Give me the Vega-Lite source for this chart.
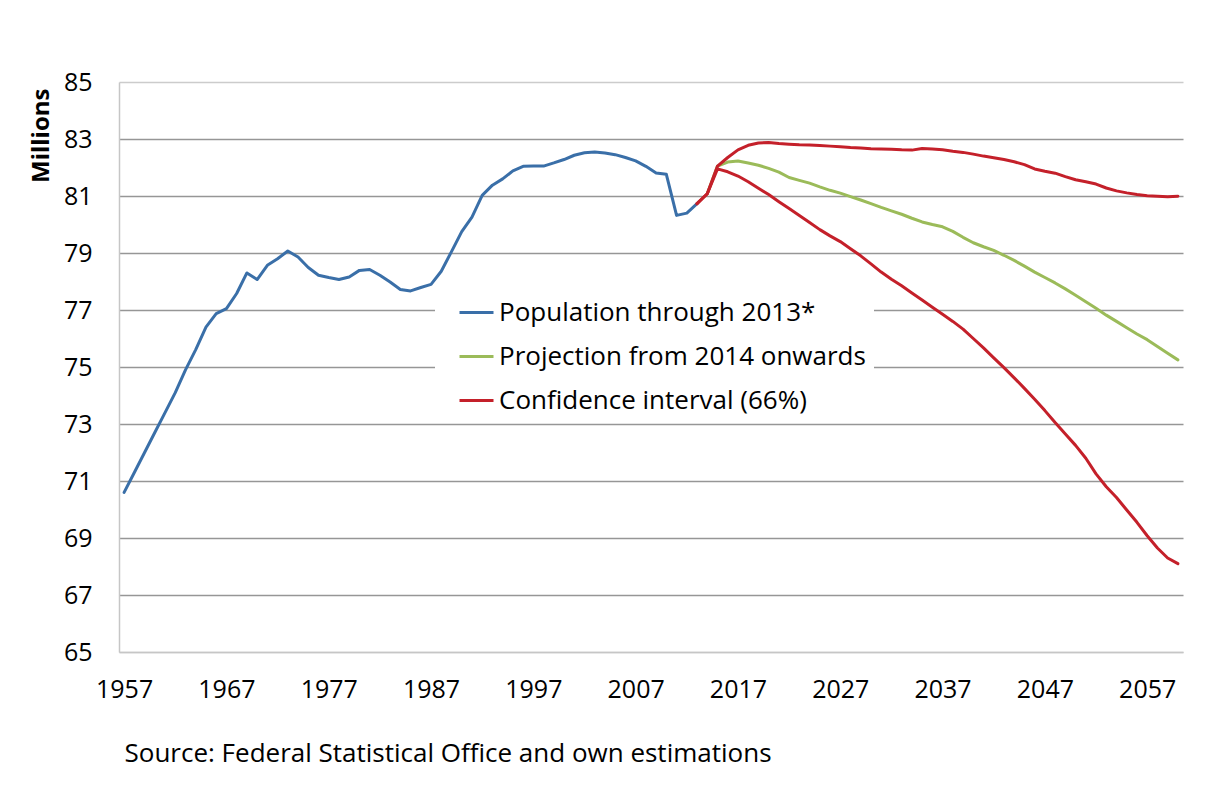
{
  "$schema": "https://vega.github.io/schema/vega-lite/v6.json",
  "width": 1064,
  "height": 570,
  "autosize": {"type": "none"},
  "padding": {"left": 119, "top": 82, "right": 31, "bottom": 135},
  "background": "white",
  "config": {
    "font": "Open Sans",
    "view": {"stroke": null},
    "axis": {"labelColor": "#000000", "titleColor": "#000000"}
  },
  "datasets": {
    "pop": [
      {"year":1957,"value":70.6,"series":"Population through 2013*","bound":"main"},
      {"year":1958,"value":71.3,"series":"Population through 2013*","bound":"main"},
      {"year":1959,"value":72.0,"series":"Population through 2013*","bound":"main"},
      {"year":1960,"value":72.7,"series":"Population through 2013*","bound":"main"},
      {"year":1961,"value":73.4,"series":"Population through 2013*","bound":"main"},
      {"year":1962,"value":74.1,"series":"Population through 2013*","bound":"main"},
      {"year":1963,"value":74.9,"series":"Population through 2013*","bound":"main"},
      {"year":1964,"value":75.61,"series":"Population through 2013*","bound":"main"},
      {"year":1965,"value":76.4,"series":"Population through 2013*","bound":"main"},
      {"year":1966,"value":76.87,"series":"Population through 2013*","bound":"main"},
      {"year":1967,"value":77.05,"series":"Population through 2013*","bound":"main"},
      {"year":1968,"value":77.58,"series":"Population through 2013*","bound":"main"},
      {"year":1969,"value":78.3,"series":"Population through 2013*","bound":"main"},
      {"year":1970,"value":78.07,"series":"Population through 2013*","bound":"main"},
      {"year":1971,"value":78.57,"series":"Population through 2013*","bound":"main"},
      {"year":1972,"value":78.8,"series":"Population through 2013*","bound":"main"},
      {"year":1973,"value":79.07,"series":"Population through 2013*","bound":"main"},
      {"year":1974,"value":78.86,"series":"Population through 2013*","bound":"main"},
      {"year":1975,"value":78.49,"series":"Population through 2013*","bound":"main"},
      {"year":1976,"value":78.22,"series":"Population through 2013*","bound":"main"},
      {"year":1977,"value":78.14,"series":"Population through 2013*","bound":"main"},
      {"year":1978,"value":78.07,"series":"Population through 2013*","bound":"main"},
      {"year":1979,"value":78.16,"series":"Population through 2013*","bound":"main"},
      {"year":1980,"value":78.39,"series":"Population through 2013*","bound":"main"},
      {"year":1981,"value":78.42,"series":"Population through 2013*","bound":"main"},
      {"year":1982,"value":78.22,"series":"Population through 2013*","bound":"main"},
      {"year":1983,"value":77.98,"series":"Population through 2013*","bound":"main"},
      {"year":1984,"value":77.72,"series":"Population through 2013*","bound":"main"},
      {"year":1985,"value":77.67,"series":"Population through 2013*","bound":"main"},
      {"year":1986,"value":77.79,"series":"Population through 2013*","bound":"main"},
      {"year":1987,"value":77.9,"series":"Population through 2013*","bound":"main"},
      {"year":1988,"value":78.36,"series":"Population through 2013*","bound":"main"},
      {"year":1989,"value":79.05,"series":"Population through 2013*","bound":"main"},
      {"year":1990,"value":79.75,"series":"Population through 2013*","bound":"main"},
      {"year":1991,"value":80.26,"series":"Population through 2013*","bound":"main"},
      {"year":1992,"value":81.02,"series":"Population through 2013*","bound":"main"},
      {"year":1993,"value":81.38,"series":"Population through 2013*","bound":"main"},
      {"year":1994,"value":81.6,"series":"Population through 2013*","bound":"main"},
      {"year":1995,"value":81.88,"series":"Population through 2013*","bound":"main"},
      {"year":1996,"value":82.04,"series":"Population through 2013*","bound":"main"},
      {"year":1997,"value":82.05,"series":"Population through 2013*","bound":"main"},
      {"year":1998,"value":82.05,"series":"Population through 2013*","bound":"main"},
      {"year":1999,"value":82.16,"series":"Population through 2013*","bound":"main"},
      {"year":2000,"value":82.28,"series":"Population through 2013*","bound":"main"},
      {"year":2001,"value":82.43,"series":"Population through 2013*","bound":"main"},
      {"year":2002,"value":82.52,"series":"Population through 2013*","bound":"main"},
      {"year":2003,"value":82.54,"series":"Population through 2013*","bound":"main"},
      {"year":2004,"value":82.51,"series":"Population through 2013*","bound":"main"},
      {"year":2005,"value":82.45,"series":"Population through 2013*","bound":"main"},
      {"year":2006,"value":82.35,"series":"Population through 2013*","bound":"main"},
      {"year":2007,"value":82.23,"series":"Population through 2013*","bound":"main"},
      {"year":2008,"value":82.04,"series":"Population through 2013*","bound":"main"},
      {"year":2009,"value":81.81,"series":"Population through 2013*","bound":"main"},
      {"year":2010,"value":81.76,"series":"Population through 2013*","bound":"main"},
      {"year":2011,"value":80.32,"series":"Population through 2013*","bound":"main"},
      {"year":2012,"value":80.4,"series":"Population through 2013*","bound":"main"},
      {"year":2013,"value":80.73,"series":"Population through 2013*","bound":"main"},

      {"year":2014,"value":81.08,"series":"Projection from 2014 onwards","bound":"mid"},
      {"year":2015,"value":82.05,"series":"Projection from 2014 onwards","bound":"mid"},
      {"year":2016,"value":82.19,"series":"Projection from 2014 onwards","bound":"mid"},
      {"year":2017,"value":82.23,"series":"Projection from 2014 onwards","bound":"mid"},
      {"year":2018,"value":82.16,"series":"Projection from 2014 onwards","bound":"mid"},
      {"year":2019,"value":82.08,"series":"Projection from 2014 onwards","bound":"mid"},
      {"year":2020,"value":81.97,"series":"Projection from 2014 onwards","bound":"mid"},
      {"year":2021,"value":81.84,"series":"Projection from 2014 onwards","bound":"mid"},
      {"year":2022,"value":81.65,"series":"Projection from 2014 onwards","bound":"mid"},
      {"year":2023,"value":81.55,"series":"Projection from 2014 onwards","bound":"mid"},
      {"year":2024,"value":81.45,"series":"Projection from 2014 onwards","bound":"mid"},
      {"year":2025,"value":81.32,"series":"Projection from 2014 onwards","bound":"mid"},
      {"year":2026,"value":81.2,"series":"Projection from 2014 onwards","bound":"mid"},
      {"year":2027,"value":81.1,"series":"Projection from 2014 onwards","bound":"mid"},
      {"year":2028,"value":80.98,"series":"Projection from 2014 onwards","bound":"mid"},
      {"year":2029,"value":80.86,"series":"Projection from 2014 onwards","bound":"mid"},
      {"year":2030,"value":80.73,"series":"Projection from 2014 onwards","bound":"mid"},
      {"year":2031,"value":80.6,"series":"Projection from 2014 onwards","bound":"mid"},
      {"year":2032,"value":80.48,"series":"Projection from 2014 onwards","bound":"mid"},
      {"year":2033,"value":80.36,"series":"Projection from 2014 onwards","bound":"mid"},
      {"year":2034,"value":80.22,"series":"Projection from 2014 onwards","bound":"mid"},
      {"year":2035,"value":80.09,"series":"Projection from 2014 onwards","bound":"mid"},
      {"year":2036,"value":80.0,"series":"Projection from 2014 onwards","bound":"mid"},
      {"year":2037,"value":79.92,"series":"Projection from 2014 onwards","bound":"mid"},
      {"year":2038,"value":79.76,"series":"Projection from 2014 onwards","bound":"mid"},
      {"year":2039,"value":79.55,"series":"Projection from 2014 onwards","bound":"mid"},
      {"year":2040,"value":79.36,"series":"Projection from 2014 onwards","bound":"mid"},
      {"year":2041,"value":79.22,"series":"Projection from 2014 onwards","bound":"mid"},
      {"year":2042,"value":79.09,"series":"Projection from 2014 onwards","bound":"mid"},
      {"year":2043,"value":78.92,"series":"Projection from 2014 onwards","bound":"mid"},
      {"year":2044,"value":78.74,"series":"Projection from 2014 onwards","bound":"mid"},
      {"year":2045,"value":78.54,"series":"Projection from 2014 onwards","bound":"mid"},
      {"year":2046,"value":78.33,"series":"Projection from 2014 onwards","bound":"mid"},
      {"year":2047,"value":78.14,"series":"Projection from 2014 onwards","bound":"mid"},
      {"year":2048,"value":77.95,"series":"Projection from 2014 onwards","bound":"mid"},
      {"year":2049,"value":77.74,"series":"Projection from 2014 onwards","bound":"mid"},
      {"year":2050,"value":77.52,"series":"Projection from 2014 onwards","bound":"mid"},
      {"year":2051,"value":77.29,"series":"Projection from 2014 onwards","bound":"mid"},
      {"year":2052,"value":77.06,"series":"Projection from 2014 onwards","bound":"mid"},
      {"year":2053,"value":76.82,"series":"Projection from 2014 onwards","bound":"mid"},
      {"year":2054,"value":76.6,"series":"Projection from 2014 onwards","bound":"mid"},
      {"year":2055,"value":76.38,"series":"Projection from 2014 onwards","bound":"mid"},
      {"year":2056,"value":76.16,"series":"Projection from 2014 onwards","bound":"mid"},
      {"year":2057,"value":75.96,"series":"Projection from 2014 onwards","bound":"mid"},
      {"year":2058,"value":75.72,"series":"Projection from 2014 onwards","bound":"mid"},
      {"year":2059,"value":75.48,"series":"Projection from 2014 onwards","bound":"mid"},
      {"year":2060,"value":75.25,"series":"Projection from 2014 onwards","bound":"mid"},

      {"year":2013,"value":80.73,"series":"Confidence interval (66%)","bound":"upper"},
      {"year":2014,"value":81.08,"series":"Confidence interval (66%)","bound":"upper"},
      {"year":2015,"value":82.05,"series":"Confidence interval (66%)","bound":"upper"},
      {"year":2016,"value":82.35,"series":"Confidence interval (66%)","bound":"upper"},
      {"year":2017,"value":82.62,"series":"Confidence interval (66%)","bound":"upper"},
      {"year":2018,"value":82.78,"series":"Confidence interval (66%)","bound":"upper"},
      {"year":2019,"value":82.86,"series":"Confidence interval (66%)","bound":"upper"},
      {"year":2020,"value":82.88,"series":"Confidence interval (66%)","bound":"upper"},
      {"year":2021,"value":82.84,"series":"Confidence interval (66%)","bound":"upper"},
      {"year":2022,"value":82.82,"series":"Confidence interval (66%)","bound":"upper"},
      {"year":2023,"value":82.8,"series":"Confidence interval (66%)","bound":"upper"},
      {"year":2024,"value":82.79,"series":"Confidence interval (66%)","bound":"upper"},
      {"year":2025,"value":82.77,"series":"Confidence interval (66%)","bound":"upper"},
      {"year":2026,"value":82.75,"series":"Confidence interval (66%)","bound":"upper"},
      {"year":2027,"value":82.73,"series":"Confidence interval (66%)","bound":"upper"},
      {"year":2028,"value":82.7,"series":"Confidence interval (66%)","bound":"upper"},
      {"year":2029,"value":82.68,"series":"Confidence interval (66%)","bound":"upper"},
      {"year":2030,"value":82.66,"series":"Confidence interval (66%)","bound":"upper"},
      {"year":2031,"value":82.65,"series":"Confidence interval (66%)","bound":"upper"},
      {"year":2032,"value":82.64,"series":"Confidence interval (66%)","bound":"upper"},
      {"year":2033,"value":82.62,"series":"Confidence interval (66%)","bound":"upper"},
      {"year":2034,"value":82.61,"series":"Confidence interval (66%)","bound":"upper"},
      {"year":2035,"value":82.67,"series":"Confidence interval (66%)","bound":"upper"},
      {"year":2036,"value":82.65,"series":"Confidence interval (66%)","bound":"upper"},
      {"year":2037,"value":82.62,"series":"Confidence interval (66%)","bound":"upper"},
      {"year":2038,"value":82.57,"series":"Confidence interval (66%)","bound":"upper"},
      {"year":2039,"value":82.53,"series":"Confidence interval (66%)","bound":"upper"},
      {"year":2040,"value":82.47,"series":"Confidence interval (66%)","bound":"upper"},
      {"year":2041,"value":82.4,"series":"Confidence interval (66%)","bound":"upper"},
      {"year":2042,"value":82.34,"series":"Confidence interval (66%)","bound":"upper"},
      {"year":2043,"value":82.28,"series":"Confidence interval (66%)","bound":"upper"},
      {"year":2044,"value":82.2,"series":"Confidence interval (66%)","bound":"upper"},
      {"year":2045,"value":82.1,"series":"Confidence interval (66%)","bound":"upper"},
      {"year":2046,"value":81.95,"series":"Confidence interval (66%)","bound":"upper"},
      {"year":2047,"value":81.87,"series":"Confidence interval (66%)","bound":"upper"},
      {"year":2048,"value":81.8,"series":"Confidence interval (66%)","bound":"upper"},
      {"year":2049,"value":81.68,"series":"Confidence interval (66%)","bound":"upper"},
      {"year":2050,"value":81.57,"series":"Confidence interval (66%)","bound":"upper"},
      {"year":2051,"value":81.5,"series":"Confidence interval (66%)","bound":"upper"},
      {"year":2052,"value":81.42,"series":"Confidence interval (66%)","bound":"upper"},
      {"year":2053,"value":81.28,"series":"Confidence interval (66%)","bound":"upper"},
      {"year":2054,"value":81.18,"series":"Confidence interval (66%)","bound":"upper"},
      {"year":2055,"value":81.11,"series":"Confidence interval (66%)","bound":"upper"},
      {"year":2056,"value":81.05,"series":"Confidence interval (66%)","bound":"upper"},
      {"year":2057,"value":81.01,"series":"Confidence interval (66%)","bound":"upper"},
      {"year":2058,"value":80.99,"series":"Confidence interval (66%)","bound":"upper"},
      {"year":2059,"value":80.97,"series":"Confidence interval (66%)","bound":"upper"},
      {"year":2060,"value":80.99,"series":"Confidence interval (66%)","bound":"upper"},

      {"year":2013,"value":80.73,"series":"Confidence interval (66%)","bound":"lower"},
      {"year":2014,"value":81.08,"series":"Confidence interval (66%)","bound":"lower"},
      {"year":2015,"value":81.95,"series":"Confidence interval (66%)","bound":"lower"},
      {"year":2016,"value":81.85,"series":"Confidence interval (66%)","bound":"lower"},
      {"year":2017,"value":81.7,"series":"Confidence interval (66%)","bound":"lower"},
      {"year":2018,"value":81.5,"series":"Confidence interval (66%)","bound":"lower"},
      {"year":2019,"value":81.27,"series":"Confidence interval (66%)","bound":"lower"},
      {"year":2020,"value":81.05,"series":"Confidence interval (66%)","bound":"lower"},
      {"year":2021,"value":80.8,"series":"Confidence interval (66%)","bound":"lower"},
      {"year":2022,"value":80.56,"series":"Confidence interval (66%)","bound":"lower"},
      {"year":2023,"value":80.32,"series":"Confidence interval (66%)","bound":"lower"},
      {"year":2024,"value":80.07,"series":"Confidence interval (66%)","bound":"lower"},
      {"year":2025,"value":79.82,"series":"Confidence interval (66%)","bound":"lower"},
      {"year":2026,"value":79.6,"series":"Confidence interval (66%)","bound":"lower"},
      {"year":2027,"value":79.4,"series":"Confidence interval (66%)","bound":"lower"},
      {"year":2028,"value":79.15,"series":"Confidence interval (66%)","bound":"lower"},
      {"year":2029,"value":78.9,"series":"Confidence interval (66%)","bound":"lower"},
      {"year":2030,"value":78.62,"series":"Confidence interval (66%)","bound":"lower"},
      {"year":2031,"value":78.33,"series":"Confidence interval (66%)","bound":"lower"},
      {"year":2032,"value":78.08,"series":"Confidence interval (66%)","bound":"lower"},
      {"year":2033,"value":77.85,"series":"Confidence interval (66%)","bound":"lower"},
      {"year":2034,"value":77.6,"series":"Confidence interval (66%)","bound":"lower"},
      {"year":2035,"value":77.35,"series":"Confidence interval (66%)","bound":"lower"},
      {"year":2036,"value":77.1,"series":"Confidence interval (66%)","bound":"lower"},
      {"year":2037,"value":76.85,"series":"Confidence interval (66%)","bound":"lower"},
      {"year":2038,"value":76.6,"series":"Confidence interval (66%)","bound":"lower"},
      {"year":2039,"value":76.33,"series":"Confidence interval (66%)","bound":"lower"},
      {"year":2040,"value":76.0,"series":"Confidence interval (66%)","bound":"lower"},
      {"year":2041,"value":75.67,"series":"Confidence interval (66%)","bound":"lower"},
      {"year":2042,"value":75.32,"series":"Confidence interval (66%)","bound":"lower"},
      {"year":2043,"value":74.98,"series":"Confidence interval (66%)","bound":"lower"},
      {"year":2044,"value":74.62,"series":"Confidence interval (66%)","bound":"lower"},
      {"year":2045,"value":74.25,"series":"Confidence interval (66%)","bound":"lower"},
      {"year":2046,"value":73.87,"series":"Confidence interval (66%)","bound":"lower"},
      {"year":2047,"value":73.47,"series":"Confidence interval (66%)","bound":"lower"},
      {"year":2048,"value":73.05,"series":"Confidence interval (66%)","bound":"lower"},
      {"year":2049,"value":72.65,"series":"Confidence interval (66%)","bound":"lower"},
      {"year":2050,"value":72.25,"series":"Confidence interval (66%)","bound":"lower"},
      {"year":2051,"value":71.8,"series":"Confidence interval (66%)","bound":"lower"},
      {"year":2052,"value":71.25,"series":"Confidence interval (66%)","bound":"lower"},
      {"year":2053,"value":70.8,"series":"Confidence interval (66%)","bound":"lower"},
      {"year":2054,"value":70.42,"series":"Confidence interval (66%)","bound":"lower"},
      {"year":2055,"value":69.98,"series":"Confidence interval (66%)","bound":"lower"},
      {"year":2056,"value":69.55,"series":"Confidence interval (66%)","bound":"lower"},
      {"year":2057,"value":69.08,"series":"Confidence interval (66%)","bound":"lower"},
      {"year":2058,"value":68.65,"series":"Confidence interval (66%)","bound":"lower"},
      {"year":2059,"value":68.3,"series":"Confidence interval (66%)","bound":"lower"},
      {"year":2060,"value":68.1,"series":"Confidence interval (66%)","bound":"lower"}
    ]
  },
  "data": {"name": "pop"},
  "mark": {"type": "line", "strokeWidth": 3, "strokeJoin": "round", "strokeCap": "round"},
  "encoding": {
    "x": {
      "field": "year",
      "type": "quantitative",
      "scale": {"domain": [1956.5, 2060.5], "nice": false, "zero": false},
      "axis": {
        "values": [1957, 1967, 1977, 1987, 1997, 2007, 2017, 2027, 2037, 2047, 2057],
        "format": "d",
        "grid": false,
        "ticks": false,
        "domainColor": "#c6c6c6",
        "domainWidth": 1.5,
        "labelFontSize": 25,
        "labelPadding": 25,
        "title": "Source: Federal Statistical Office and own estimations",
        "titleAnchor": "start",
        "titleX": 5,
        "titleFontWeight": "normal",
        "titleFontSize": 26,
        "titlePadding": 38
      }
    },
    "y": {
      "field": "value",
      "type": "quantitative",
      "scale": {"domain": [65, 85], "nice": false, "zero": false},
      "axis": {
        "values": [65, 67, 69, 71, 73, 75, 77, 79, 81, 83, 85],
        "ticks": false,
        "domainColor": "#c6c6c6",
        "domainWidth": 1.5,
        "gridColor": {"condition": {"test": "datum.value == 85 || datum.value == 65", "value": "#cccccc"}, "value": "#969696"},
        "gridWidth": 1.3,
        "labelFontSize": 25,
        "labelPadding": 27,
        "title": "Millions",
        "titleFontSize": 24,
        "titleFontWeight": "bold",
        "titleAnchor": "end",
        "titleY": 6,
        "titlePadding": 10
      }
    },
    "color": {
      "field": "series",
      "type": "nominal",
      "scale": {
        "domain": ["Population through 2013*", "Projection from 2014 onwards", "Confidence interval (66%)"],
        "range": ["#3a6fa8", "#9bbb59", "#c4202a"]
      },
      "legend": {
        "orient": "none",
        "legendX": 316,
        "legendY": 204,
        "title": null,
        "fillColor": "white",
        "padding": 8,
        "symbolOffset": 15,
        "symbolType": "stroke",
        "symbolSize": 1156,
        "symbolStrokeWidth": 3,
        "labelFontSize": 26,
        "labelOffset": 4,
        "labelLimit": 600,
        "rowPadding": 12,
        "labelColor": "#000000"
      }
    },
    "detail": {"field": "bound", "type": "nominal"}
  }
}
